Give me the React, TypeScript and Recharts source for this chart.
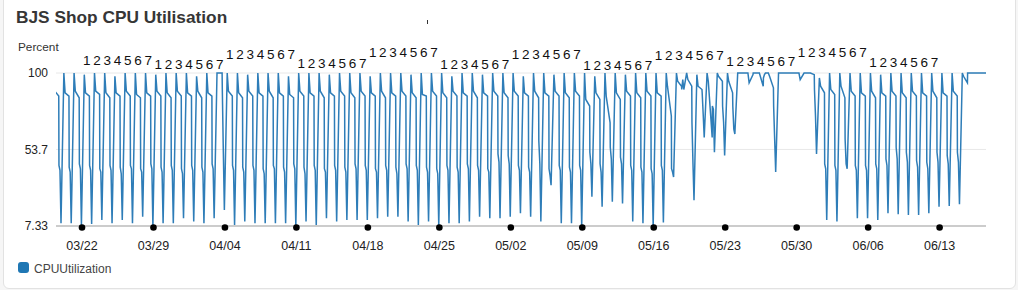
import React from "react";
import { LineChart, Line, XAxis, YAxis, CartesianGrid } from "recharts";

// one cycle per day: value at the daily peak, just after it, end of the plateau,
// the knee of the evening drop, end of the knee and the night low
const peakVals = [
    100, 100, 100, 99, 100, 100, 98, 100, 100, 100, 99, 100, 100, 100, 98, 100, 100, 100, 100, 99,
    100, 100, 100, 98, 100, 100, 100, 99, 100, 100, 100, 98, 100, 100, 100, 99, 100, 100, 100, 98,
    100, 100, 99, 100, 100, 100, 98, 100, 100, 99, 100, 100, 100, 98, 100, 100, 99, 100, 100, 100,
    100, 100, 100, 99, 100, 100, 100, 100, 100, 100, 100, 100, 100, 100, 100, 97, 100, 100, 100, 100,
    100, 99, 100, 100, 100, 100, 100, 100, 100, 100, 100, 100,
];
const shoulderVals = [
    89, 88, 89, 88, 89, 88, 88, 89, 87, 88, 89, 88, 89, 88, 89, 88, 100, 89, 88, 89,
    88, 89, 88, 87, 89, 88, 89, 88, 89, 88, 89, 88, 89, 88, 89, 88, 87, 89, 88, 89,
    88, 89, 88, 89, 88, 89, 88, 89, 88, 89, 88, 89, 84, 88, 86, 88, 89, 88, 89, 88,
    92, 95, 96, 92, 95, 98, 95, 100, 94, 100, 98, 100, 100, 96, 100, 92, 90, 92, 89, 88,
    89, 88, 89, 88, 89, 88, 89, 88, 89, 98, 100, 100,
];
const plateauVals = [
    86, 86, 85, 86, 87, 85, 86, 86, 85, 86, 86, 85, 86, 86, 85, 86, 100, 86, 85, 86,
    86, 85, 86, 85, 86, 86, 85, 86, 86, 85, 86, 86, 85, 86, 86, 85, 86, 86, 85, 86,
    86, 85, 86, 86, 85, 86, 86, 85, 86, 86, 85, 86, 80, 84, 70, 84, 86, 85, 86, 86,
    74, 92, 92, 90, 61, 95, 88, 100, 99, 92, 91, 100, 100, 100, 99, 88, 87, 85, 86, 86,
    85, 86, 86, 85, 86, 86, 85, 86, 86, 94, 100, 100,
];
const kneeVals = [
    44, 43, 45, 44, 42, 44, 43, 44, 42, 45, 43, 44, 42, 44, 43, 45, 90, 44, 43, 44,
    42, 44, 43, 45, 43, 44, 42, 44, 43, 45, 44, 42, 44, 43, 45, 44, 43, 42, 44, 43,
    45, 44, 42, 51, 50, 44, 43, 59, 42, 44, 43, 44, 52, 45, 55, 49, 44, 43, 42, 44,
    42, 90, 70, 88, 80, 80, 80, 100, 100, 97, 80, 100, 100, 100, 90, 45, 44, 60, 44, 44,
    45, 48, 55, 52, 47, 46, 52, 50, 52, 100, 100, 100,
];
const kneeEndVals = [
    41, 40, 42, 41, 40, 41, 39, 42, 40, 42, 40, 41, 39, 41, 40, 42, 52, 41, 40, 41,
    39, 42, 40, 42, 39, 41, 40, 41, 40, 42, 41, 40, 41, 39, 42, 41, 40, 39, 41, 40,
    42, 41, 40, 46, 45, 41, 40, 45, 38, 41, 40, 41, 45, 40, 48, 45, 41, 40, 39, 41,
    40, 96, 45, 75, 78, 70, 66, 100, 100, 99, 60, 100, 100, 100, 74, 42, 41, 45, 41, 41,
    42, 44, 48, 46, 43, 42, 46, 45, 46, 100, 100, 100,
];
const troughVals = [
    9, 9, 8, 8.5, 11, 9, 11, 9, 13, 7.33, 9, 9, 12, 10, 9, 12, 17, 8, 10, 9,
    9, 9, 9, 7.33, 10, 7.33, 12, 10, 11, 11, 11, 12, 13, 13, 10, 8, 10, 7.5, 9, 9,
    10, 13, 12, 12, 13, 15, 13, 10, 32, 9, 9, 7.33, 25, 19, 22, 21, 10, 9, 7.33, 9.5,
    37, 90, 23, 61, 52, 50, 63, 100, 100, 100, 40, 100, 100, 100, 51, 11, 10, 42, 12, 12,
    11, 15, 14.5, 14, 14, 15, 19, 19.5, 20.5, 100, 100, 100,
];

const dateLabels = ["03/22", "03/29", "04/04", "04/11", "04/18", "04/25", "05/02", "05/09", "05/16", "05/23", "05/30", "06/06", "06/13"];
const weekdayRow = "1 2 3 4 5 6 7";
const yTicks = [7.33, 53.7, 100];

// where the day-of-week rows were pencilled in above the plot
const weekRowBaseline = [65, 69, 59, 68, 57, 69, 59, 70, 60, 66, 57, 67];

const firstTick = 2.777;
const sampleOffsets = [0, 0.12, 0.5, 0.52, 0.62, 0.72];
const sampleSeries = [peakVals, shoulderVals, plateauVals, kneeVals, kneeEndVals, troughVals];

const chartData = peakVals.flatMap((_, k) =>
    sampleOffsets.map((o, j) => ({ day: k + o, cpu: sampleSeries[j][k] }))
);
const tickDays = dateLabels.map((_, i) => firstTick + 7 * i);

const FONT = '"Liberation Sans", Arial, Helvetica, sans-serif';
const PLOT_BOTTOM = 226;

function DateTick(props: any) {
    const { x, index } = props;
    return (
        <g>
            <circle cx={x} cy={PLOT_BOTTOM + 1.5} r={3.3} fill="#000" />
            <text x={x} y={PLOT_BOTTOM + 23.5} textAnchor="middle" fontSize={12.5} fill="#222" fontFamily={FONT}>
                {dateLabels[index]}
            </text>
            <text
                x={x + 1}
                y={weekRowBaseline[index]}
                fontSize={13.5}
                fill="#111"
                fontFamily={FONT}
                textLength={69}
                lengthAdjust="spacing"
            >
                {weekdayRow}
            </text>
        </g>
    );
}

export default function App() {
    return (
        <div style={{ position: "relative", width: 1018, height: 290, overflow: "hidden", fontFamily: FONT }}>
            <style>{`body{margin:0;background:#f6f6f6;}`}</style>
            <div
                style={{
                    position: "absolute",
                    left: 3,
                    top: -6,
                    width: 1011,
                    height: 293,
                    background: "#fff",
                    border: "1px solid #e2e2e2",
                    borderRadius: 6,
                }}
            />
            <div style={{ position: "absolute", left: 16, top: 6, fontSize: 17.3, fontWeight: 700, color: "#363636", lineHeight: "22px" }}>
                BJS Shop CPU Utilisation
            </div>
            <div style={{ position: "absolute", left: 427, top: 20, width: 1, height: 4, background: "#333" }} />
            <div style={{ position: "absolute", left: 18, top: 39, fontSize: 11.8, color: "#333", lineHeight: "16px" }}>Percent</div>
            <div style={{ position: "absolute", left: 0, top: 0 }}>
                <LineChart width={1018} height={290} data={chartData} margin={{ top: 73, right: 32, bottom: 0, left: 0 }}>
                    <CartesianGrid vertical={false} stroke="#e8e8e8" />
                    <XAxis
                        type="number"
                        dataKey="day"
                        domain={[0.23, 91.32]}
                        allowDataOverflow
                        ticks={tickDays}
                        interval={0}
                        height={64}
                        tickLine={false}
                        axisLine={{ stroke: "#cccccc", strokeWidth: 2 }}
                        tick={(p: any) => <DateTick {...p} />}
                    />
                    <YAxis
                        type="number"
                        domain={[7.33, 100]}
                        ticks={yTicks}
                        interval={0}
                        width={56}
                        axisLine={false}
                        tickLine={false}
                        tick={{ fontSize: 12, fill: "#222", fontFamily: FONT }}
                    />
                    <Line
                        type="linear"
                        dataKey="cpu"
                        stroke="#2e7db8"
                        strokeWidth={1.5}
                        dot={false}
                        isAnimationActive={false}
                    />
                </LineChart>
            </div>
            <div style={{ position: "absolute", left: 18, top: 262, width: 11, height: 11, borderRadius: 3, background: "#1f77b4" }} />
            <div style={{ position: "absolute", left: 34, top: 261, fontSize: 12, color: "#444", lineHeight: "16px" }}>CPUUtilization</div>
        </div>
    );
}
